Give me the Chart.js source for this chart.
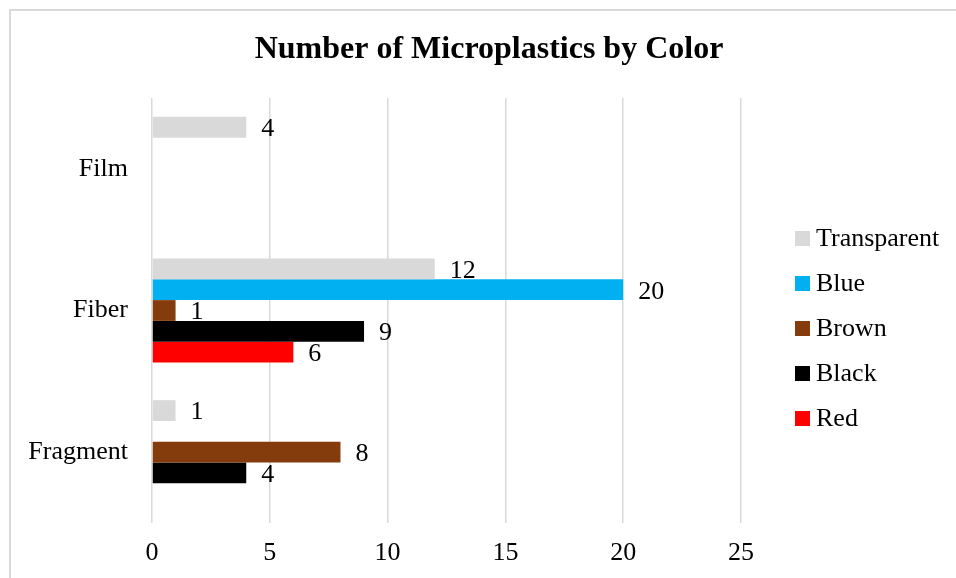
<!DOCTYPE html>
<html>
<head>
<meta charset="utf-8">
<script src="https://cdn.jsdelivr.net/npm/chart.js@4.4.1/dist/chart.umd.min.js"></script>
<style>
  html, body { margin: 0; padding: 0; background: #fff; overflow: hidden; }
  #wrap { position: relative; width: 956px; height: 578px; overflow: hidden; }
  #frame { position: absolute; left: 9px; top: 9px; width: 947px; height: 569px;
           border-top: 2px solid #d9d9d9; border-left: 2px solid #d9d9d9;
           box-sizing: border-box; pointer-events: none; }
  canvas { position: absolute; left: 0; top: 0; }
</style>
</head>
<body>
<div id="wrap">
  <canvas id="chart" width="956" height="578"></canvas>
  <div id="frame"></div>
</div>
<script>
// Particle shape categories (top to bottom)
const categories = ['Film', 'Fiber', 'Fragment'];

// Counts per colour for each shape
const transparentCounts = [4, 12, 1];
const blueCounts        = [null, 20, null];
const brownCounts       = [null, 1, 8];
const blackCounts       = [null, 9, 4];
const redCounts         = [null, 6, null];

const seriesNames  = ['Transparent', 'Blue', 'Brown', 'Black', 'Red'];
const seriesColors = ['#d9d9d9', '#00b0f0', '#843c0c', '#000000', '#ff0000'];
const seriesValues = [transparentCounts, blueCounts, brownCounts, blackCounts, redCounts];

const xTicks = [0, 5, 10, 15, 20, 25];

const SERIF = '"Liberation Serif", "Times New Roman", serif';

// Title, legend and value labels
const decorations = {
  id: 'decorations',
  afterDatasetsDraw(chart) {
    const ctx = chart.ctx;
    ctx.save();
    ctx.fillStyle = '#000';
    ctx.textBaseline = 'middle';
    ctx.textAlign = 'left';
    ctx.font = '26px ' + SERIF;
    chart.data.datasets.forEach((ds, di) => {
      const meta = chart.getDatasetMeta(di);
      meta.data.forEach((bar, i) => {
        const v = ds.data[i];
        if (v === null || v === undefined) return;
        ctx.fillText(String(v), bar.x + 15, bar.y + 2);
      });
    });
    ctx.restore();
  },
  afterDraw(chart) {
    const ctx = chart.ctx;
    ctx.save();
    ctx.fillStyle = '#000';
    ctx.textBaseline = 'middle';
    ctx.textAlign = 'center';
    ctx.font = 'bold 32px ' + SERIF;
    ctx.fillText('Number of Microplastics by Color', 489, 50);

    ctx.textAlign = 'left';
    ctx.font = '26px ' + SERIF;
    chart.data.datasets.forEach((ds, i) => {
      const y = 238 + i * 45;
      ctx.fillStyle = ds.backgroundColor;
      ctx.fillRect(795, y - 7, 15, 15);
      ctx.fillStyle = '#000';
      ctx.fillText(ds.label, 816, y + 1);
    });
    ctx.restore();
  }
};

new Chart(document.getElementById('chart'), {
  type: 'bar',
  data: {
    labels: categories,
    datasets: seriesNames.map((name, i) => ({
      label: name,
      data: seriesValues[i],
      backgroundColor: seriesColors[i],
      borderWidth: 0,
      barPercentage: 1.0,
      categoryPercentage: 0.734
    }))
  },
  options: {
    indexAxis: 'y',
    responsive: false,
    animation: false,
    layout: { padding: { top: 98, right: 215, left: 0, bottom: 0 } },
    plugins: {
      legend: { display: false },
      title: { display: false },
      tooltip: { enabled: false }
    },
    scales: {
      x: {
        min: 0,
        max: 25,
        afterBuildTicks(scale) { scale.ticks = xTicks.map(v => ({ value: v })); },
        afterFit(scale) { scale.height = 55; },
        grid: { color: '#d9d9d9', lineWidth: 1.5, drawTicks: false },
        border: { display: false },
        ticks: { color: '#000', font: { family: SERIF, size: 26 }, padding: 15 }
      },
      y: {
        afterFit(scale) { scale.width = 152; },
        grid: { display: false, drawTicks: false },
        border: { display: false },
        ticks: { color: '#000', font: { family: SERIF, size: 26 }, padding: 24 }
      }
    }
  },
  plugins: [decorations]
});
</script>
</body>
</html>
